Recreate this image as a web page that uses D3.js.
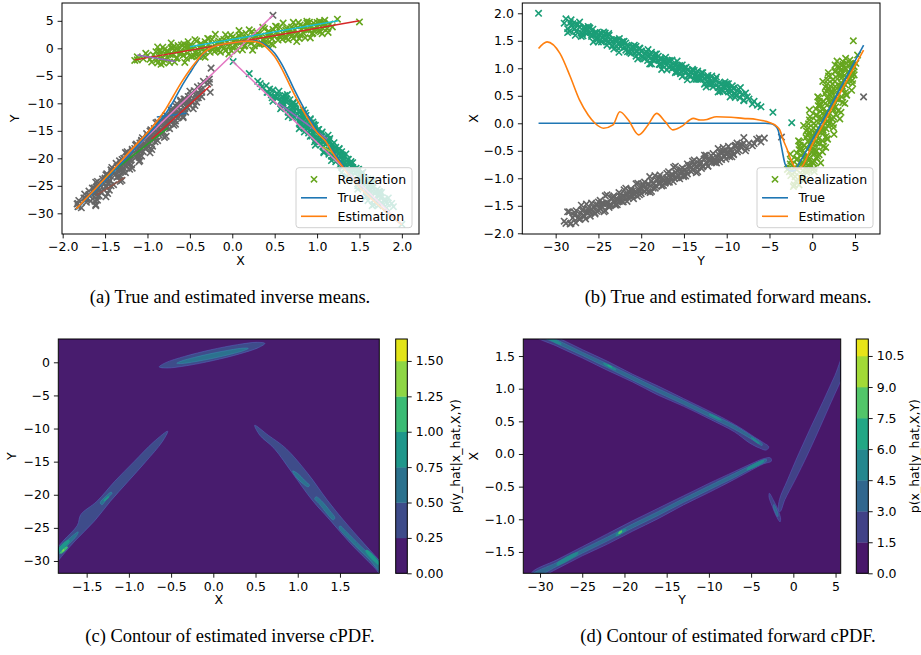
<!DOCTYPE html>
<html><head><meta charset="utf-8">
<script src="https://cdn.jsdelivr.net/npm/d3@7"></script>
<style>body{margin:0;background:#fff}</style>
</head><body>
<svg id="fig" width="921" height="655"></svg>
<script>
// ================= DATA =================
// Realizations.  green as [X,Y]; teal & gray as [Y,X]
const greenXY=[[-0.90,-0.62],[-0.88,-2.66],[-0.86,-1.11],[-0.84,-1.85],[-0.82,0.20],[-0.80,-2.04],[-0.78,-1.08],[-0.76,-0.53],[-0.74,-2.57],[-0.72,0.08],[-0.70,-1.16],[-0.68,-0.40],[-0.66,-1.85],[-0.64,0.51],[-0.62,-1.04],[-0.60,-0.68],[-0.58,-1.32],[-0.56,0.23],[-0.54,-1.81],[-0.52,-0.06],[-0.50,0.50],[-0.48,-1.54],[-0.46,0.01],[-0.44,-0.73],[-0.42,1.32],[-0.40,-0.92],[-0.38,0.04],[-0.36,0.59],[-0.34,-1.45],[-0.32,1.20],[-0.30,-0.04],[-0.28,0.72],[-0.26,-0.73],[-0.24,1.63],[-0.22,0.08],[-0.20,0.44],[-0.18,-0.20],[-0.16,1.35],[-0.14,-0.69],[-0.12,1.06],[-0.10,1.62],[-0.08,-0.42],[-0.06,1.13],[-0.04,0.39],[-0.02,2.44],[0.00,0.20],[0.02,1.16],[0.04,1.71],[0.06,-0.33],[0.08,2.32],[0.10,1.08],[0.12,1.84],[0.14,0.39],[0.16,2.75],[0.18,1.20],[0.20,1.56],[0.22,0.92],[0.24,2.47],[0.26,0.43],[0.28,2.18],[0.30,2.74],[0.32,0.70],[0.34,2.25],[0.36,1.51],[0.38,3.56],[0.40,1.32],[0.42,2.28],[0.44,2.83],[0.46,0.79],[0.48,3.44],[0.50,2.20],[0.52,2.96],[0.54,1.51],[0.56,3.87],[0.58,2.32],[0.60,2.68],[0.62,2.04],[0.64,3.59],[0.66,1.55],[0.68,3.30],[0.70,3.86],[0.72,1.82],[0.74,3.37],[0.76,2.63],[0.78,4.68],[0.80,2.44],[0.82,3.40],[0.84,3.95],[0.86,1.91],[0.88,4.56],[0.90,3.32],[0.92,4.08],[0.94,2.63],[0.96,4.60],[0.98,3.44],[1.00,3.80],[1.02,3.16],[1.04,4.71],[1.06,2.67],[1.08,4.42],
[-0.89,-2.09],[-0.85,-0.38],[-0.81,-2.67],[-0.77,-0.46],[-0.73,-1.14],[-0.69,0.27],[-0.65,-1.72],[-0.61,-0.51],[-0.57,0.80],[-0.53,-0.88],[-0.49,0.23],[-0.45,-1.36],[-0.41,-0.15],[-0.37,0.86],[-0.33,-0.52],[-0.29,1.79],[-0.25,0.00],[-0.21,-0.59],[-0.17,1.02],[-0.13,0.44],[-0.09,0.15],[-0.05,1.86],[-0.01,-0.43],[0.03,1.78],[0.07,1.10],[0.11,2.51],[0.15,0.52],[0.19,1.73],[0.23,3.04],[0.27,1.36],[0.31,2.47],[0.35,0.88],[0.39,2.09],[0.43,3.10],[0.47,1.72],[0.51,4.03],[0.55,2.24],[0.59,1.65],[0.63,3.26],[0.67,2.68],[0.71,2.39],[0.75,4.10],[0.79,1.81],[0.83,4.02],[0.87,3.34],[0.91,4.75],[0.95,2.76],[0.99,3.97],[1.03,4.90],[1.07,3.60],
[-0.88,0.24],[-0.84,-2.90],[-0.80,-0.24],[-0.76,-1.73],[-0.72,0.98],[-0.68,-2.50],[-0.64,-0.39],[-0.60,0.62],[-0.56,-2.57],[-0.52,0.34],[-0.48,-1.34],[-0.44,1.57],[-0.40,-1.42],[-0.36,0.19],[-0.32,-1.60],[-0.28,1.72],[-0.24,-0.07],[-0.20,2.54],[-0.16,-0.35],[-0.12,1.26],[-0.08,2.48],[-0.04,-1.01],[0.00,2.00],[0.04,0.51],[0.08,3.22],[0.12,-0.26],[0.16,1.85],[0.20,3.36],[0.24,-0.33],[0.28,2.38],[0.32,0.90],[0.36,3.81],[0.40,0.82],[0.44,2.43],[0.48,0.64],[0.52,3.96],[0.56,2.17],[0.60,4.60],[0.64,1.89],[0.68,3.50],[0.72,4.72],[0.76,1.23],[0.80,4.24],[0.84,2.75],[0.88,4.90],[0.92,1.88],[0.96,3.29],[1.00,4.70],[1.04,3.01],[1.08,4.62],
[-1.15,-2.2],[-1.12,-1.55],[-1.12,-2.1],[-1.05,-1.9],[-1.0,-1.3],[-0.97,-2.0],[-0.93,-1.2],[-0.86,-0.6],[-0.70,0.0],[-0.52,1.2],[1.09,5.1],[1.24,5.3],[1.50,4.8],[1.09,4.0],[1.12,3.6],[1.15,4.4],[1.18,3.9],[1.13,2.9],[-0.95,-2.5],[-1.02,-0.9]];

const tealYX=[[-29.0,1.82],[-28.3,1.83],[-27.8,1.71],[-27.2,1.75],[-26.9,1.63],[-26.5,1.74],[-26.1,1.74],[-25.8,1.61],[-25.4,1.65],[-25.1,1.53],[-24.8,1.64],[-24.5,1.55],[-24.2,1.64],[-23.9,1.48],[-23.6,1.52],[-23.3,1.41],[-23.0,1.51],[-22.7,1.45],[-22.4,1.40],[-22.1,1.48],[-21.8,1.33],[-21.5,1.40],[-21.2,1.27],[-20.9,1.39],[-20.6,1.40],[-20.3,1.26],[-20.0,1.31],[-19.7,1.19],[-19.4,1.30],[-19.1,1.21],[-18.8,1.29],[-18.5,1.14],[-18.2,1.18],[-17.9,1.07],[-17.6,1.17],[-17.3,1.11],[-17.0,1.06],[-16.7,1.14],[-16.4,0.99],[-16.1,1.05],[-15.8,0.93],[-15.5,1.05],[-15.2,1.06],[-14.9,0.92],[-14.6,0.97],[-14.3,0.85],[-14.0,0.96],[-13.7,0.87],[-13.4,0.95],[-13.1,0.80],[-12.8,0.84],[-12.5,0.73],[-12.2,0.83],[-11.9,0.77],[-11.6,0.72],[-11.3,0.80],[-11.0,0.65],[-10.7,0.71],[-10.4,0.59],[-10.1,0.71],[-9.8,0.72],[-9.5,0.58],[-9.2,0.63],[-8.9,0.51],[-8.6,0.62],[-8.2,0.53],[-7.8,0.55],[-7.4,0.44],
[-28.15,1.77],[-27.65,1.80],[-27.05,1.64],[-26.75,1.74],[-26.35,1.63],[-25.95,1.65],[-25.65,1.71],[-25.25,1.55],[-24.95,1.61],[-24.65,1.48],[-24.35,1.60],[-24.05,1.51],[-23.75,1.60],[-23.45,1.49],[-23.15,1.52],[-22.85,1.39],[-22.55,1.54],[-22.25,1.48],[-21.95,1.38],[-21.65,1.42],[-21.35,1.29],[-21.05,1.38],[-20.75,1.28],[-20.45,1.31],[-20.15,1.36],[-19.85,1.21],[-19.55,1.27],[-19.25,1.14],[-18.95,1.26],[-18.65,1.16],[-18.35,1.26],[-18.05,1.15],[-17.75,1.18],[-17.45,1.05],[-17.15,1.20],[-16.85,1.14],[-16.55,1.04],[-16.25,1.08],[-15.95,0.94],[-15.65,1.04],[-15.35,0.94],[-15.05,0.97],[-14.75,1.02],[-14.45,0.87],[-14.15,0.93],[-13.85,0.80],[-13.55,0.92],[-13.25,0.82],[-12.95,0.92],[-12.65,0.81],[-12.35,0.84],[-12.05,0.71],[-11.75,0.86],[-11.45,0.80],[-11.15,0.70],[-10.85,0.74],[-10.55,0.60],[-10.25,0.70],[-9.95,0.60],[-9.65,0.63],[-9.35,0.68],[-9.05,0.53],[-8.75,0.59],[-8.45,0.46],
[-28.8,1.90],[-28.4,1.67],[-28.0,1.81],[-27.6,1.67],[-27.2,1.84],[-26.8,1.59],[-26.4,1.68],[-26.0,1.73],[-25.6,1.48],[-25.2,1.65],[-24.8,1.52],[-24.4,1.66],[-24.0,1.42],[-23.6,1.52],[-23.2,1.35],[-22.8,1.52],[-22.4,1.39],[-22.0,1.49],[-21.6,1.30],[-21.2,1.34],[-20.8,1.42],[-20.4,1.17],[-20.0,1.31],[-19.6,1.17],[-19.2,1.34],[-18.8,1.08],[-18.4,1.18],[-18.0,1.22],[-17.6,0.98],[-17.2,1.14],[-16.8,1.02],[-16.4,1.15],[-16.0,0.92],[-15.6,1.01],[-15.2,0.85],[-14.8,1.01],[-14.4,0.89],[-14.0,0.98],[-13.6,0.80],[-13.2,0.83],[-12.8,0.92],[-12.4,0.66],[-12.0,0.81],[-11.6,0.66],[-11.2,0.84],[-10.8,0.58],[-10.4,0.68],[-10.0,0.72],[-9.6,0.48],[-9.2,0.64],[-8.8,0.51],[-8.4,0.65],[-8.0,0.41],
[-28.6,1.72],[-28.2,1.88],[-27.8,1.72],[-27.4,1.80],[-27.0,1.58],[-26.6,1.72],[-26.2,1.76],[-25.8,1.58],[-25.4,1.61],[-25.0,1.48],[-24.6,1.63],[-24.2,1.52],[-23.8,1.63],[-23.4,1.40],[-23.0,1.50],[-22.6,1.29],[-22.2,1.43],[-21.8,1.46],[-21.4,1.31],[-21.0,1.38],[-20.6,1.22],[-20.2,1.37],[-19.8,1.22],[-19.4,1.29],[-19.0,1.08],[-18.6,1.21],[-18.2,1.26],[-17.8,1.07],[-17.4,1.11],[-17.0,0.97],[-16.6,1.13],[-16.2,1.01],[-15.8,1.13],[-15.4,0.90],[-15.0,1.00],[-14.6,0.79],[-14.2,0.93],[-13.8,0.96],[-13.4,0.80],[-13.0,0.88],[-12.6,0.71],[-12.2,0.87],[-11.8,0.71],[-11.4,0.79],[-11.0,0.57],[-10.6,0.71],[-10.2,0.75],[-9.8,0.57],[-9.4,0.60],[-9.0,0.47],
[-32.0,2.0],[-28.6,1.65],[-27.7,1.60],[-7.0,0.35],[-6.8,0.40],[-6.0,0.30],[-6.4,0.33],[-4.6,0.20],[-2.4,0.01],[-8.0,0.42],[-7.6,0.48]];

const grayYX=[[-29.0,-1.78],[-28.3,-1.83],[-27.8,-1.67],[-27.2,-1.73],[-26.9,-1.59],[-26.5,-1.74],[-26.1,-1.61],[-25.8,-1.56],[-25.4,-1.63],[-25.1,-1.48],[-24.8,-1.56],[-24.5,-1.46],[-24.2,-1.59],[-23.9,-1.45],[-23.6,-1.50],[-23.3,-1.34],[-23.0,-1.49],[-22.7,-1.39],[-22.4,-1.34],[-22.1,-1.43],[-21.8,-1.28],[-21.5,-1.36],[-21.2,-1.22],[-20.9,-1.37],[-20.6,-1.25],[-20.3,-1.20],[-20.0,-1.28],[-19.7,-1.13],[-19.4,-1.21],[-19.1,-1.11],[-18.8,-1.24],[-18.5,-1.10],[-18.2,-1.15],[-17.9,-0.99],[-17.6,-1.14],[-17.3,-1.04],[-17.0,-0.99],[-16.7,-1.07],[-16.4,-0.92],[-16.1,-1.00],[-15.8,-0.86],[-15.5,-1.01],[-15.2,-0.89],[-14.9,-0.84],[-14.6,-0.92],[-14.3,-0.77],[-14.0,-0.85],[-13.7,-0.75],[-13.4,-0.88],[-13.1,-0.74],[-12.8,-0.79],[-12.5,-0.63],[-12.2,-0.78],[-11.9,-0.68],[-11.6,-0.63],[-11.3,-0.71],[-11.0,-0.56],[-10.7,-0.64],[-10.4,-0.50],[-10.1,-0.65],[-9.8,-0.53],[-9.5,-0.48],[-9.2,-0.56],[-8.9,-0.41],[-8.6,-0.49],[-8.2,-0.39],[-7.8,-0.50],[-7.4,-0.36],[-7.0,-0.41],[-6.5,-0.29],[-6.0,-0.34],[-5.6,-0.27],
[-27.65,-1.81],[-27.05,-1.63],[-26.75,-1.69],[-26.35,-1.61],[-25.95,-1.69],[-25.65,-1.60],[-25.25,-1.49],[-24.95,-1.59],[-24.65,-1.46],[-24.35,-1.61],[-24.05,-1.44],[-23.75,-1.53],[-23.45,-1.36],[-23.15,-1.44],[-22.85,-1.37],[-22.55,-1.42],[-22.25,-1.42],[-21.95,-1.33],[-21.65,-1.42],[-21.35,-1.26],[-21.05,-1.32],[-20.75,-1.24],[-20.45,-1.33],[-20.15,-1.24],[-19.85,-1.14],[-19.55,-1.24],[-19.25,-1.11],[-18.95,-1.26],[-18.65,-1.09],[-18.35,-1.18],[-18.05,-1.01],[-17.75,-1.09],[-17.45,-1.02],[-17.15,-1.07],[-16.85,-1.07],[-16.55,-0.97],[-16.25,-1.06],[-15.95,-0.90],[-15.65,-0.96],[-15.35,-0.88],[-15.05,-0.97],[-14.75,-0.88],[-14.45,-0.78],[-14.15,-0.88],[-13.85,-0.75],[-13.55,-0.90],[-13.25,-0.73],[-12.95,-0.82],[-12.65,-0.65],[-12.35,-0.73],[-12.05,-0.66],[-11.75,-0.71],[-11.45,-0.71],[-11.15,-0.61],[-10.85,-0.70],[-10.55,-0.54],[-10.25,-0.60],[-9.95,-0.52],[-9.65,-0.61],[-9.35,-0.52],[-9.05,-0.42],[-8.75,-0.52],[-8.45,-0.39],
[-28.8,-1.82],[-28.4,-1.61],[-28.0,-1.72],[-27.6,-1.59],[-27.2,-1.75],[-26.8,-1.57],[-26.4,-1.47],[-26.0,-1.61],[-25.6,-1.52],[-25.2,-1.60],[-24.8,-1.40],[-24.4,-1.46],[-24.0,-1.30],[-23.6,-1.47],[-23.2,-1.32],[-22.8,-1.48],[-22.4,-1.29],[-22.0,-1.21],[-21.6,-1.31],[-21.2,-1.19],[-20.8,-1.30],[-20.4,-1.09],[-20.0,-1.20],[-19.6,-1.07],[-19.2,-1.24],[-18.8,-1.05],[-18.4,-0.95],[-18.0,-1.09],[-17.6,-1.00],[-17.2,-1.09],[-16.8,-0.88],[-16.4,-0.94],[-16.0,-0.78],[-15.6,-0.95],[-15.2,-0.81],[-14.8,-0.96],[-14.4,-0.78],[-14.0,-0.69],[-13.6,-0.79],[-13.2,-0.67],[-12.8,-0.78],[-12.4,-0.58],[-12.0,-0.68],[-11.6,-0.55],[-11.2,-0.72],[-10.8,-0.53],[-10.4,-0.44],[-10.0,-0.57],[-9.6,-0.48],[-9.2,-0.57],[-8.8,-0.36],[-8.4,-0.43],[-8.0,-0.26],
[-28.6,-1.61],[-28.2,-1.82],[-27.8,-1.62],[-27.4,-1.72],[-27.0,-1.49],[-26.6,-1.69],[-26.2,-1.55],[-25.8,-1.45],[-25.4,-1.65],[-25.0,-1.43],[-24.6,-1.51],[-24.2,-1.32],[-23.8,-1.50],[-23.4,-1.36],[-23.0,-1.47],[-22.6,-1.26],[-22.2,-1.33],[-21.8,-1.18],[-21.4,-1.32],[-21.0,-1.23],[-20.6,-1.10],[-20.2,-1.30],[-19.8,-1.10],[-19.4,-1.20],[-19.0,-0.97],[-18.6,-1.18],[-18.2,-1.03],[-17.8,-0.94],[-17.4,-1.13],[-17.0,-0.91],[-16.6,-0.99],[-16.2,-0.80],[-15.8,-0.99],[-15.4,-0.84],[-15.0,-0.95],[-14.6,-0.74],[-14.2,-0.81],[-13.8,-0.67],[-13.4,-0.80],[-13.0,-0.71],[-12.6,-0.58],[-12.2,-0.78],[-11.8,-0.59],[-11.4,-0.68],[-11.0,-0.46],[-10.6,-0.66],[-10.2,-0.51],[-9.8,-0.42],[-9.4,-0.61],[-9.0,-0.40],
[-3.6,-0.25],[6.0,0.48],[-7.7,-0.45],[-8.0,-0.36],[-6.8,-0.37],[-6.2,-0.27]];

// (a) inverse means: Y as a function of X
const invX=[-1.84,-1.6,-1.4,-1.2,-1.0,-0.9,-0.8,-0.7,-0.6,-0.5,-0.42,-0.34,-0.26,-0.18,-0.1,0.0,0.1,0.2,0.28,0.35,0.42,0.5,0.58,0.66,0.74,0.82,0.9,1.0,1.1,1.2,1.3,1.4,1.55,1.7,1.85,2.0];
const invTrueY=[-29.3,-25.6,-22.4,-19.1,-15.8,-14.1,-12.2,-9.8,-7.0,-4.5,-2.6,-1.0,0.0,0.5,0.8,1.0,1.2,1.3,1.3,1.0,0.3,-0.9,-2.8,-5.2,-7.8,-10.2,-12.4,-15.0,-17.0,-19.0,-21.2,-23.4,-25.9,-28.1,-30.2,-32.1];
const invEstY=[-29.2,-25.3,-22.0,-18.6,-15.3,-13.5,-11.4,-8.8,-6.2,-3.9,-2.3,-0.9,0.0,0.5,0.8,1.0,1.2,1.3,1.2,0.8,-0.1,-1.5,-3.6,-6.1,-8.6,-10.9,-13.0,-15.3,-16.9,-19.4,-21.5,-23.6,-26.0,-28.2,-30.2,-32.1];
// local linear fits in (a): [x0,y0,x1,y1]
const localFits=[[-0.89,-12.5,-0.54,-11.8],[-1.50,-23.5,-0.76,-14.5],[-1.15,-2.1,1.50,5.0],[-0.95,-16.5,-0.26,-6.8],[-1.12,-1.2,-0.67,-2.4],[0.55,-10.0,1.12,-16.5],[-1.60,-26.7,-1.27,-23.5],[-1.31,-20.6,0.48,6.0],[0.0,-2.3,2.0,-32.0],[1.07,-17.9,1.23,-19.4],[-0.5,0.3,1.25,5.0]];
const localFitColor=[0,2,3,3,4,4,5,6,6,8,9];

// (b) forward means: X as a function of Y
const fwdTrueY=[-32,-24,-16,-8,-5.5,-4.8,-4.4,-4.0,-3.6,-3.2,-2.8,-2.4,-2.0,-1.5,0,2,4,6];
const fwdTrueX=[0,0,0,0,0,-0.01,-0.04,-0.12,-0.43,-0.73,-0.84,-0.87,-0.85,-0.72,-0.30,0.27,0.85,1.42];
const fwdEstY=[-32.0,-31.0,-29.5,-28.3,-27.2,-26.2,-25.4,-24.4,-23.3,-22.5,-21.5,-20.3,-19.2,-18.2,-17.2,-16.3,-15.3,-13.9,-13.1,-12.3,-11.2,-9.5,-8.1,-6.5,-5.3,-4.6,-4.2,-3.8,-3.4,-3.0,-2.6,-2.2,-1.8,-1.4,0,2,4,6];
const fwdEstX=[1.36,1.48,1.27,0.85,0.42,0.15,0.0,-0.09,-0.03,0.21,0.06,-0.21,-0.03,0.18,0.03,-0.12,-0.06,0.09,0.06,0.07,0.12,0.11,0.09,0.07,0.03,-0.01,-0.05,-0.12,-0.30,-0.45,-0.62,-0.76,-0.83,-0.82,-0.39,0.19,0.76,1.33];

// tick values
const aXTicks=[-2,-1.5,-1,-0.5,0,0.5,1,1.5,2], aYTicks=[-30,-25,-20,-15,-10,-5,0,5];
const bXTicks=[-30,-25,-20,-15,-10,-5,0,5], bYTicks=[-2,-1.5,-1,-0.5,0,0.5,1,1.5,2];
const cXTicks=[-1.5,-1,-0.5,0,0.5,1,1.5], cYTicks=[-30,-25,-20,-15,-10,-5,0];
const dXTicks=[-30,-25,-20,-15,-10,-5,0,5], dYTicks=[-1.5,-1,-0.5,0,0.5,1,1.5];

// contour levels (colorbars)
const invLevels=[0,0.25,0.5,0.75,1.0,1.25,1.5,1.655];
const fwdLevels=[0,1.5,3.0,4.5,6.0,7.5,9.0,10.5,11.32];

// (c) filled-contour regions, [X,Y], with level band index
const invRegions=[
 {lvl:1,pts:[[0.611,2.855],[0.534,2.211],[0.310,1.266],[-0.001,0.269],[-0.316,-0.510],[-0.550,-0.863],[-0.641,-0.695],[-0.564,-0.051],[-0.340,0.894],[-0.029,1.891],[0.286,2.670],[0.520,3.023]]},
 {lvl:1,pts:[[-0.54,-10.4],[-0.605,-12],[-0.80,-15],[-1.01,-18],[-1.22,-21],[-1.41,-24],[-1.64,-27],[-1.84,-30],[-1.93,-31.5],[-2.08,-31.5],[-1.98,-30],[-1.78,-27],[-1.61,-24.6],[-1.57,-23.0],[-1.38,-21],[-1.17,-18],[-0.94,-15],[-0.705,-12]]},
 {lvl:1,pts:[[0.49,-9.5],[0.65,-11],[0.86,-13],[1.12,-16.8],[1.35,-20.8],[1.54,-23.8],[1.78,-27.3],[2.04,-30.9],[2.17,-32.6],[2.03,-32.6],[1.90,-30.9],[1.62,-27.3],[1.38,-23.8],[1.17,-20.8],[0.94,-16.8],[0.72,-13],[0.55,-11]]},
 {lvl:2,pts:[[0.415,2.113],[0.361,1.776],[0.208,1.227],[-0.003,0.61],[-0.216,0.093],[-0.373,-0.186],[-0.433,-0.153],[-0.379,0.184],[-0.226,0.733],[-0.015,1.35],[0.198,1.867],[0.355,2.146]]},
 {lvl:2,pts:[[0.94,-16.4],[1.00,-16.8],[1.08,-17.8],[1.14,-18.6],[1.12,-18.8],[1.05,-18.2],[0.98,-17.3]]},
 {lvl:2,pts:[[1.22,-20.3],[1.28,-20.9],[1.38,-22.4],[1.44,-23.5],[1.42,-23.8],[1.35,-22.9],[1.25,-21.3],[1.20,-20.6]]},
 {lvl:2,pts:[[1.50,-24.7],[1.57,-25.5],[1.75,-27.8],[1.98,-30.6],[2.05,-31.6],[1.98,-31.6],[1.85,-29.8],[1.62,-26.9],[1.49,-25.0]]},
 {lvl:2,pts:[[-1.20,-19.8],[-1.25,-20.4],[-1.32,-21.5],[-1.34,-21.2],[-1.27,-20.2],[-1.21,-19.6]]},
 {lvl:2,pts:[[-1.62,-26.2],[-1.70,-27.3],[-1.80,-28.6],[-1.90,-29.8],[-1.90,-28.9],[-1.78,-27.5],[-1.66,-26.1],[-1.60,-25.6]]},
 {lvl:3,pts:[[-1.24,-20.2],[-1.30,-20.9],[-1.29,-21.0],[-1.23,-20.3]]},
 {lvl:3,pts:[[-1.70,-27.0],[-1.86,-28.9],[-1.86,-28.5],[-1.72,-26.8]]},
 {lvl:3,pts:[[1.80,-28.5],[1.96,-30.6],[1.97,-30.3],[1.82,-28.3]]},
 {lvl:4,pts:[[-1.82,-28.8],[-1.74,-27.8],[-1.72,-27.9],[-1.80,-28.9]]},
 {lvl:5,pts:[[-1.79,-28.5],[-1.77,-28.2],[-1.765,-28.3],[-1.785,-28.6]]}
];

// (d) filled-contour regions, [Y,X]
const fwdRegions=[
 {lvl:1,pts:[[-31,1.98],[-28,1.79],[-25,1.60],[-22,1.42],[-19,1.22],[-16,1.04],[-13,0.85],[-10,0.66],[-8,0.53],[-6,0.38],[-4.6,0.26],[-3.5,0.17],[-2.9,0.11],[-3.2,0.06],[-4.0,0.09],[-5.2,0.17],[-7,0.34],[-10,0.54],[-13,0.73],[-16,0.90],[-19,1.10],[-22,1.28],[-25,1.47],[-28,1.65],[-31,1.84]]},
 {lvl:1,pts:[[-31,-1.82],[-28,-1.62],[-25,-1.42],[-22,-1.22],[-19,-1.02],[-16,-0.83],[-13,-0.64],[-10,-0.45],[-7,-0.27],[-5,-0.15],[-3.5,-0.07],[-2.7,-0.06],[-2.6,-0.11],[-3.5,-0.15],[-5,-0.25],[-7,-0.39],[-10,-0.59],[-13,-0.78],[-16,-0.99],[-19,-1.18],[-22,-1.38],[-25,-1.56],[-28,-1.76],[-31,-1.94]]},
 {lvl:1,pts:[[-1.75,-0.87],[-1.65,-0.70],[-0.70,-0.40],[0.62,0.0],[2.03,0.4],[3.5,0.8],[4.91,1.2],[6.3,1.6],[7.3,1.6],[5.91,1.2],[4.5,0.8],[3.13,0.4],[1.72,0.0],[0.2,-0.4],[-1.0,-0.7],[-1.55,-0.88]]},
 {lvl:1,pts:[[-2.84,-0.60],[-2.3,-0.72],[-1.75,-0.87],[-1.5,-1.0],[-1.57,-1.04],[-1.95,-0.97],[-2.5,-0.80],[-2.88,-0.66]]},
 {lvl:2,pts:[[-31,1.94],[-28,1.75],[-25,1.56],[-22,1.38],[-19,1.19],[-16,1.00],[-13,0.82],[-10,0.63],[-7,0.44],[-5,0.28],[-3.7,0.16],[-3.7,0.13],[-5,0.23],[-7,0.38],[-10,0.57],[-13,0.76],[-16,0.94],[-19,1.13],[-22,1.32],[-25,1.51],[-28,1.69],[-31,1.88]]},
 {lvl:2,pts:[[-31,-1.85],[-28,-1.66],[-25,-1.46],[-22,-1.27],[-19,-1.07],[-16,-0.88],[-13,-0.68],[-10,-0.49],[-7,-0.30],[-5,-0.175],[-3.2,-0.08],[-3.2,-0.11],[-5,-0.225],[-7,-0.36],[-10,-0.55],[-13,-0.74],[-16,-0.94],[-19,-1.13],[-22,-1.33],[-25,-1.52],[-28,-1.72],[-31,-1.91]]},
 {lvl:2,pts:[[-2.3,-0.77],[-1.8,-0.92],[-1.85,-0.96],[-2.35,-0.82]]},
 {lvl:3,pts:[[-29,1.79],[-27.5,1.70],[-27.5,1.67],[-29,1.76]]},
 {lvl:3,pts:[[-22.5,1.40],[-21,1.30],[-21,1.28],[-22.5,1.38]]},
 {lvl:3,pts:[[-10,0.62],[-8.5,0.53],[-8.5,0.51],[-10,0.60]]},
 {lvl:3,pts:[[-5,0.26],[-4,0.17],[-4,0.15],[-5,0.24]]},
 {lvl:3,pts:[[-28,-1.67],[-25.5,-1.50],[-25.5,-1.53],[-28,-1.71]]},
 {lvl:3,pts:[[-21,-1.22],[-19.8,-1.14],[-19.8,-1.17],[-21,-1.26]]},
 {lvl:3,pts:[[-5.5,-0.22],[-3.5,-0.09],[-3.5,-0.12],[-5.5,-0.25]]},
 {lvl:4,pts:[[-22,1.37],[-21.5,1.34],[-21.5,1.32],[-22,1.35]]},
 {lvl:5,pts:[[-20.7,-1.20],[-20.3,-1.17],[-20.3,-1.20],[-20.7,-1.23]]}
];

// ================= STYLE / LAYOUT =================
const FONT='"DejaVu Sans", sans-serif';
const FS=12.5;
const cGreen='#66a61e', cTeal='#1b9e77', cGray='#666666';
const tab10=['#1f77b4','#ff7f0e','#2ca02c','#d62728','#9467bd','#8c564b','#e377c2','#7f7f7f','#bcbd22','#17becf'];
const svg=d3.select('#fig');
svg.append('rect').attr('width',921).attr('height',655).attr('fill','#fff');
const defs=svg.append('defs');

function makePanel(id,box,xdom,ydom){
  const x=d3.scaleLinear().domain(xdom).range([box.l,box.r]);
  const y=d3.scaleLinear().domain(ydom).range([box.b,box.t]);
  defs.append('clipPath').attr('id','clip'+id).append('rect')
    .attr('x',box.l).attr('y',box.t).attr('width',box.r-box.l).attr('height',box.b-box.t);
  const g=svg.append('g');
  const plot=g.append('g').attr('clip-path','url(#clip'+id+')');
  return {x,y,g,plot,box};
}
function drawAxes(p,xt,yt,xf,yf,xlab,ylab){
  const {x,y,g,box}=p;
  const ax=g.append('g').attr('transform',`translate(0,${box.b})`)
    .call(d3.axisBottom(x).tickValues(xt).tickFormat(d3.format(xf)).tickSize(4.4).tickPadding(4));
  const ay=g.append('g').attr('transform',`translate(${box.l},0)`)
    .call(d3.axisLeft(y).tickValues(yt).tickFormat(d3.format(yf)).tickSize(4.4).tickPadding(4));
  [ax,ay].forEach(a=>{a.select('.domain').remove();a.attr('font-family',FONT).attr('font-size',FS);
    a.selectAll('line').attr('stroke','#000').attr('stroke-width',0.9);a.selectAll('text').attr('fill','#000');});
  g.append('rect').attr('x',box.l).attr('y',box.t).attr('width',box.r-box.l).attr('height',box.b-box.t)
    .attr('fill','none').attr('stroke','#000').attr('stroke-width',1);
  g.append('text').attr('x',(box.l+box.r)/2).attr('y',box.b+31).attr('text-anchor','middle')
    .attr('font-family',FONT).attr('font-size',FS).text(xlab);
  g.append('text').attr('transform',`translate(${ylab.x},${(box.t+box.b)/2}) rotate(-90)`)
    .attr('text-anchor','middle').attr('dominant-baseline','central')
    .attr('font-family',FONT).attr('font-size',FS).text(ylab.t);
}
const xMark=(s)=>`M${-s},${-s}L${s},${s}M${-s},${s}L${s},${-s}`;
function scatter(p,pts,color){
  p.plot.append('g').selectAll('path').data(pts).join('path')
    .attr('d',xMark(3.2)).attr('transform',d=>`translate(${p.x(d[0])},${p.y(d[1])})`)
    .attr('stroke',color).attr('stroke-width',1.6).attr('fill','none');
}
function legend(p,bx,by){
  const g=p.g.append('g');
  g.append('rect').attr('x',bx).attr('y',by).attr('width',116).attr('height',60).attr('rx',3)
    .attr('fill','#fff').attr('fill-opacity',0.8).attr('stroke','#d0d0d0').attr('stroke-width',1);
  const rows=[{t:'Realization'},{t:'True',c:tab10[0]},{t:'Estimation',c:tab10[1]}];
  rows.forEach((r,i)=>{
    const yy=by+11.6+i*18.5;
    if(i===0) g.append('path').attr('d',xMark(3.1)).attr('transform',`translate(${bx+18},${yy})`)
      .attr('stroke',cGreen).attr('stroke-width',1.5);
    else g.append('line').attr('x1',bx+5).attr('x2',bx+31).attr('y1',yy).attr('y2',yy)
      .attr('stroke',r.c).attr('stroke-width',1.6);
    g.append('text').attr('x',bx+41.5).attr('y',yy).attr('dominant-baseline','central')
      .attr('font-family',FONT).attr('font-size',FS).text(r.t);
  });
}

// ---------- (a) ----------
const A=makePanel('a',{l:62,r:419,t:3,b:234},[-2.008,2.202],[-33.76,8.24]);
scatter(A,greenXY,cGreen);
scatter(A,tealYX.map(d=>[d[1],d[0]]),cTeal);
scatter(A,grayYX.map(d=>[d[1],d[0]]),cGray);
localFits.forEach((s,i)=>{
  A.plot.append('line').attr('x1',A.x(s[0])).attr('y1',A.y(s[1])).attr('x2',A.x(s[2])).attr('y2',A.y(s[3]))
   .attr('stroke',tab10[localFitColor[i]]).attr('stroke-width',1.5);
});
const lineA=d3.line().curve(d3.curveMonotoneX);
A.plot.append('path').attr('d',lineA(invX.map((v,i)=>[A.x(v),A.y(invTrueY[i])]))).attr('fill','none').attr('stroke',tab10[0]).attr('stroke-width',1.6);
A.plot.append('path').attr('d',lineA(invX.map((v,i)=>[A.x(v),A.y(invEstY[i])]))).attr('fill','none').attr('stroke',tab10[1]).attr('stroke-width',1.6);
drawAxes(A,aXTicks,aYTicks,'.1f','d','X',{x:14,t:'Y'});
legend(A,296,167.7);

// ---------- (b) ----------
const B=makePanel('b',{l:522.3,r:880,t:3,b:234},[-33.9,7.92],[-2.013,2.187]);
scatter(B,greenXY.map(d=>[d[1],d[0]]),cGreen);
scatter(B,tealYX,cTeal);
scatter(B,grayYX,cGray);
B.plot.append('path').attr('d',lineA(fwdTrueY.map((v,i)=>[B.x(v),B.y(fwdTrueX[i])]))).attr('fill','none').attr('stroke',tab10[0]).attr('stroke-width',1.6);
B.plot.append('path').attr('d',lineA(fwdEstY.map((v,i)=>[B.x(v),B.y(fwdEstX[i])]))).attr('fill','none').attr('stroke',tab10[1]).attr('stroke-width',1.6);
drawAxes(B,bXTicks,bYTicks,'d','.1f','Y',{x:473,t:'X'});
legend(B,757,167.7);

// ---------- contour panels ----------
function bandColors(levels){
  const vmax=levels[levels.length-1];
  return d3.range(levels.length-1).map(i=>d3.interpolateViridis(((levels[i]+levels[i+1])/2)/vmax));
}
function contourPanel(P,regions,levels,cbBox,cbFmt,cbLabel,cbLabX){
  const cols=bandColors(levels);
  P.plot.append('rect').attr('x',P.box.l).attr('y',P.box.t).attr('width',P.box.r-P.box.l).attr('height',P.box.b-P.box.t).attr('fill',cols[0]);
  const ln=d3.line().x(d=>P.x(d[0])).y(d=>P.y(d[1])).curve(d3.curveCatmullRomClosed.alpha(0.5));
  regions.forEach(r=>{
    const path=P.plot.append('path').attr('d',ln(r.pts)).attr('fill',cols[r.lvl]);
    if(r.lvl<=2) path.attr('stroke',d3.color(cols[r.lvl]).brighter(r.lvl===1?1.1:0.7)).attr('stroke-width',0.55).attr('stroke-opacity',0.8);
  });
  // colorbar
  const cy=d3.scaleLinear().domain([levels[0],levels[levels.length-1]]).range([cbBox.b,cbBox.t]);
  const cg=svg.append('g');
  cg.selectAll('rect.band').data(d3.range(levels.length-1)).join('rect')
    .attr('x',cbBox.l).attr('width',cbBox.r-cbBox.l)
    .attr('y',i=>cy(levels[i+1])).attr('height',i=>cy(levels[i])-cy(levels[i+1])+0.3)
    .attr('fill',i=>cols[i]);
  cg.append('rect').attr('x',cbBox.l).attr('y',cbBox.t).attr('width',cbBox.r-cbBox.l).attr('height',cbBox.b-cbBox.t)
    .attr('fill','none').attr('stroke','#000').attr('stroke-width',1);
  const ax=cg.append('g').attr('transform',`translate(${cbBox.r},0)`)
    .call(d3.axisRight(cy).tickValues(levels.slice(0,-1)).tickFormat(d3.format(cbFmt)).tickSize(4.4).tickPadding(4));
  ax.select('.domain').remove();
  ax.attr('font-family',FONT).attr('font-size',FS);
  ax.selectAll('line').attr('stroke','#000').attr('stroke-width',0.9);
  ax.selectAll('text').attr('fill','#000');
  cg.append('text').attr('transform',`translate(${cbLabX},${(cbBox.t+cbBox.b)/2}) rotate(-90)`)
    .attr('text-anchor','middle').attr('dominant-baseline','central')
    .attr('font-family',FONT).attr('font-size',FS).text(cbLabel);
}
const C=makePanel('c',{l:58.3,r:379.3,t:339,b:573.3},[-1.836,1.966],[-31.86,3.52]);
contourPanel(C,invRegions,invLevels,{l:395.7,r:407.3,t:339,b:573.3},'.2f','p(y_hat|x_hat,X,Y)',455);
drawAxes(C,cXTicks,cYTicks,'.1f','d','X',{x:11.7,t:'Y'});

const D=makePanel('d',{l:523.3,r:840.7,t:339,b:573.3},[-31.98,5.61],[-1.827,1.761]);
contourPanel(D,fwdRegions,fwdLevels,{l:856.3,r:868.3,t:339,b:573.3},'.1f','p(x_hat|y_hat,X,Y)',914);
drawAxes(D,dXTicks,dYTicks,'d','.1f','Y',{x:473,t:'X'});

// ---------- captions ----------
const caps=[{t:'(a) True and estimated inverse means.',x:230,y:303},{t:'(b) True and estimated forward means.',x:728,y:303},
            {t:'(c) Contour of estimated inverse cPDF.',x:230,y:642},{t:'(d) Contour of estimated forward cPDF.',x:728,y:642}];
svg.selectAll('text.cap').data(caps).join('text').attr('class','cap')
  .attr('x',d=>d.x).attr('y',d=>d.y).attr('text-anchor','middle')
  .attr('font-family','"Liberation Serif", "DejaVu Serif", serif').attr('font-size',18.5).attr('fill','#000')
  .text(d=>d.t);
</script>
</body></html>
